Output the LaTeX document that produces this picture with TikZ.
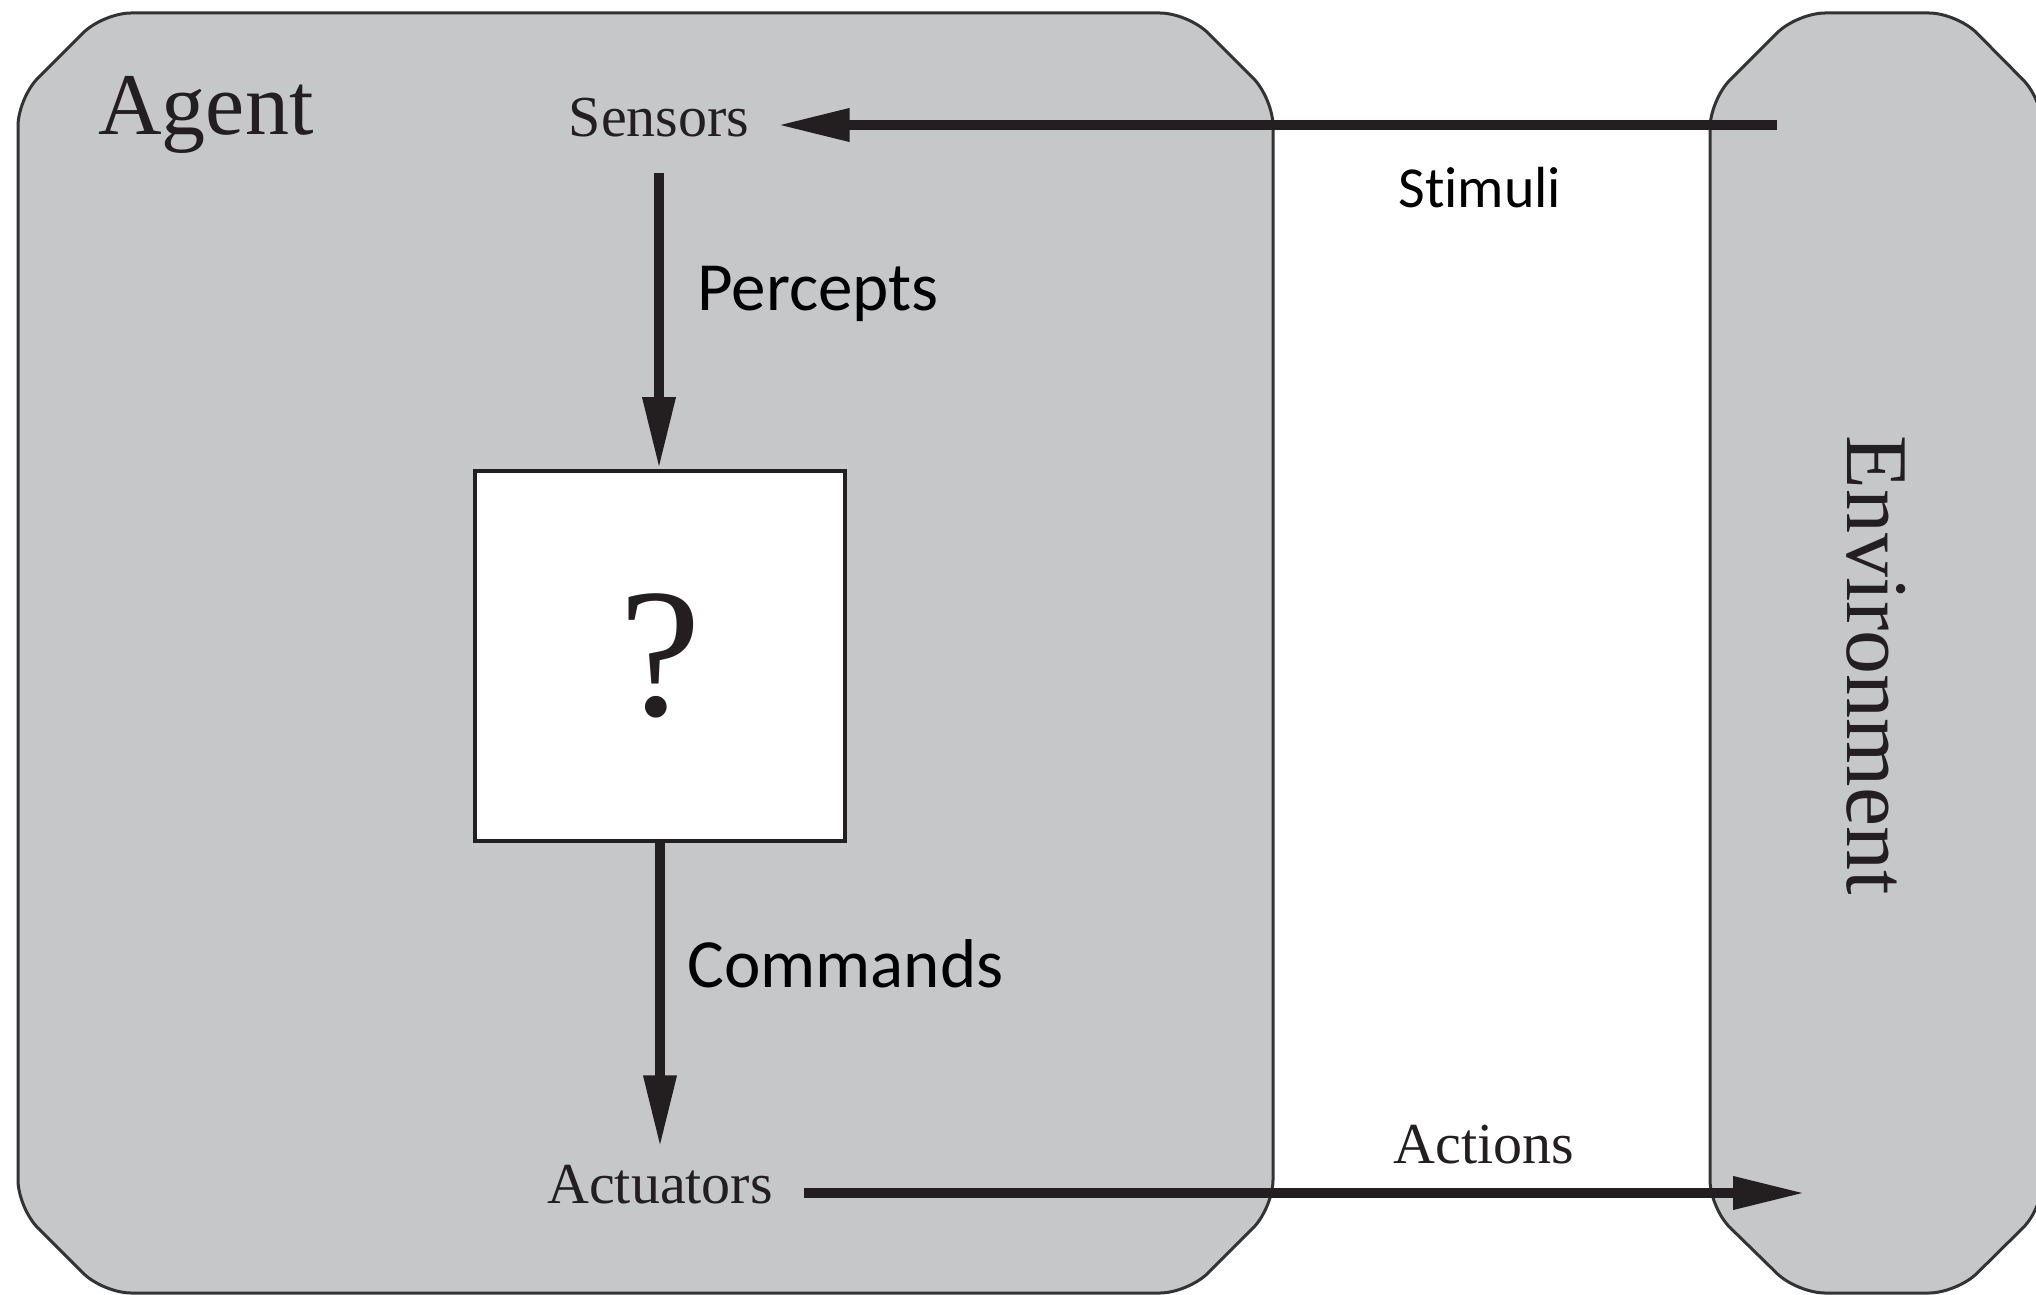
\documentclass[tikz,border=0pt]{standalone}
\usepackage{fontspec}
\setmainfont{Liberation Serif}
\newfontfamily\labelfont[Ligatures=NoCommon,RawFeature=-calt]{Carlito}
\usetikzlibrary{arrows.meta}
\definecolor{panelgray}{HTML}{C6C7C9}
\definecolor{ink}{HTML}{231F20}
\definecolor{edge}{HTML}{333333}

\begin{document}
\begin{tikzpicture}[x=0.5pt,y=-0.5pt,
  panel/.style={fill=panelgray, draw=edge, line width=1.5pt, rounded corners=14pt},
  flow/.style={draw=ink, line width=5pt, -{Triangle[length=36pt,width=15.5pt]}},
  serif/.style={inner sep=0pt, text=ink, font=\fontsize{29}{34}\selectfont},
  big/.style={inner sep=0pt, text=ink, font=\fontsize{44}{52}\selectfont},
  note/.style={inner sep=0pt, text=black},
]
\useasboundingbox (0,0) rectangle (2036,1295);
\fill[white] (0,0) rectangle (2036,1295);

% agent and environment panels
\path[panel] (18,98) -- (103,13) -- (1188,13) -- (1273,98) -- (1273,1208)
  -- (1188,1293) -- (103,1293) -- (18,1208) -- cycle;
\path[panel] (1710,100) -- (1797,13) -- (1957,13) -- (2043,100) -- (2043,1208)
  -- (1957,1293) -- (1797,1293) -- (1710,1208) -- cycle;

% labels
\node[big, anchor=base west] (agent) at (98,135) {Agent};
\node[big, rotate=-90] (env) at (1876,665) {Environment};
\node[serif, anchor=base, inner xsep=14pt, inner ysep=17.5pt] (sensors) at (659,137) {Sensors};
\node[serif, anchor=base, inner xsep=15.5pt, inner ysep=8.5pt] (act) at (660,1203) {Actuators};
\node[serif, anchor=base west] (actions) at (1393,1163) {Actions};

% decision box
\node[draw=ink, fill=white, line width=2pt, minimum size=185pt, inner sep=0pt,
  text=ink, font=\fontsize{92}{100}\selectfont] (brain) at (660,656) {?};

% flows
\coordinate (stim) at (1777,125);
\coordinate (actin) at (1805,1193);
\draw[flow] (stim) -- (sensors.east |- stim);
\draw[flow] (sensors.south) -- (sensors.south |- brain.north);
\draw[flow] (brain.south) -- (brain.south |- act.north);
\draw[flow] (act.east |- actin) -- (actin);

% flow names
\node[note, anchor=base west, font=\labelfont\fontsize{29}{34}\selectfont] (stimuli) at (1398,207) {Stimuli};
\node[note, anchor=base west, font=\labelfont\fontsize{34.5}{40}\selectfont] (percepts) at (697,310) {Percepts};
\node[note, anchor=base west, font=\labelfont\fontsize{34.5}{40}\selectfont] (commands) at (687,987) {Commands};
\end{tikzpicture}
\end{document}
